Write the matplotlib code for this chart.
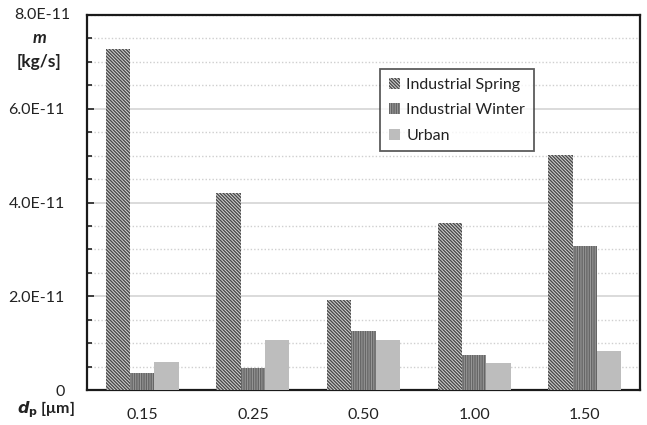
import matplotlib
matplotlib.use("Agg")
import matplotlib.pyplot as plt
import numpy as np
from matplotlib.ticker import MultipleLocator

plt.rcParams['font.family'] = ['Lato', 'DejaVu Sans']
plt.rcParams['hatch.linewidth'] = 1.0

# Particle diameters (category labels)
diameters = ["0.15", "0.25", "0.50", "1.00", "1.50"]

# Mass flow rate m [kg/s] per size class
industrial_spring = [7.28e-11, 4.21e-11, 1.92e-11, 3.57e-11, 5.01e-11]
industrial_winter = [0.36e-11, 0.47e-11, 1.26e-11, 0.74e-11, 3.07e-11]
urban = [0.60e-11, 1.07e-11, 1.07e-11, 0.58e-11, 0.84e-11]

series_names = ["Industrial Spring", "Industrial Winter", "Urban"]
y_ticks = [0, 2.0e-11, 4.0e-11, 6.0e-11, 8.0e-11]
y_tick_labels = ["0", "2.0E-11", "4.0E-11", "6.0E-11", "8.0E-11"]

W, H = 647, 425
fig = plt.figure(figsize=(W / 100, H / 100), dpi=100)
ax = fig.add_axes([87 / W, 35 / H, (640 - 87) / W, (390 - 15) / H])

x = np.arange(len(diameters))
bw = 0.22

styles = [
    dict(facecolor="#d8d8d8", edgecolor="#4a4a4a", hatch="\\" * 10),
    dict(facecolor="#9a9a9a", edgecolor="#666666", hatch="|" * 7),
    dict(facecolor="#bdbdbd", edgecolor="#bdbdbd", hatch=None),
]
data = [industrial_spring, industrial_winter, urban]
for i, (vals, name, st) in enumerate(zip(data, series_names, styles)):
    ax.bar(x + (i - 1) * bw, vals, width=bw, label=name, linewidth=0,
           zorder=3, **st)

ax.set_xlim(-0.5, len(diameters) - 0.5)
ax.set_ylim(0, 8.0e-11)

ax.set_yticks(y_ticks[:-1])
ax.set_yticklabels(y_tick_labels[:-1])
ax.yaxis.set_minor_locator(MultipleLocator(0.5e-11))
ax.set_xticks(x)
ax.set_xticklabels(diameters)

ax.tick_params(axis='y', which='major', direction='in', length=5, width=1.2,
               labelsize=11.5, pad=16, colors='#222222')
ax.tick_params(axis='y', which='minor', direction='in', length=3.5, width=1.2,
               colors='#222222')
ax.tick_params(axis='x', length=0, labelsize=11.5, pad=13, colors='#222222')

ax.grid(axis='y', which='major', color='#d4d4d4', linewidth=1.2, zorder=0)
ax.grid(axis='y', which='minor', color='#cfcfcf', linewidth=1.0,
        linestyle=(0, (1, 1.5)), zorder=0)
ax.set_axisbelow(True)

for sp in ax.spines.values():
    sp.set_color('#1a1a1a')
    sp.set_linewidth(1.6)

# Axis annotations placed around the plot frame
def fx(px):
    return px / W

def fy(py):
    return 1 - py / H

fig.text(fx(70), fy(15), "8.0E-11", ha='right', va='center', fontsize=11.5,
         color='#222222')
fig.text(fx(40), fy(38), "m", ha='center', va='center', fontsize=12.5,
         fontweight='bold', fontstyle='italic', color='#222222')
fig.text(fx(39), fy(62), "[kg/s]", ha='center', va='center', fontsize=12.5,
         fontweight='bold', color='#222222')
fig.text(fx(46), fy(410), r"$\boldsymbol{d}_{\mathbf{p}}$ [μm]", ha='center',
         va='center', fontsize=11.5, fontweight='bold', color='#222222')

leg = ax.legend(loc='upper left', bbox_to_anchor=((380 - 87) / 553, (390 - 69) / 375),
                borderaxespad=0, fontsize=11.5, frameon=True, fancybox=False,
                handlelength=0.7, handleheight=0.7, handletextpad=0.4,
                labelspacing=0.7, borderpad=0.55)
leg.get_frame().set_edgecolor('#333333')
leg.get_frame().set_linewidth(1.3)
for t in leg.get_texts():
    t.set_color('#222222')

fig.savefig("out.png", dpi=100)
